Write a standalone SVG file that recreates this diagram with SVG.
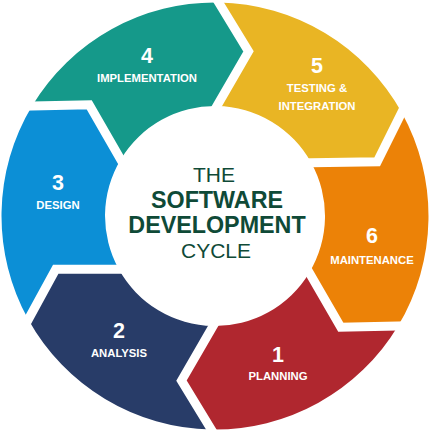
<svg xmlns="http://www.w3.org/2000/svg" width="431" height="431" viewBox="0 0 431 431">
<style>
.num{font-family:"Liberation Sans",Arial,sans-serif;font-weight:bold;font-size:21.5px;fill:#fff;text-anchor:middle}
.lbl{font-family:"Liberation Sans",Arial,sans-serif;font-weight:bold;font-size:11.3px;fill:#fff;text-anchor:middle}
.ct{font-family:"Liberation Sans",Arial,sans-serif;fill:#0f4a37;text-anchor:middle}
.thin{font-size:21px;font-weight:normal}
.bold{font-size:23.3px;font-weight:bold}
</style>
<defs>
<mask id="gaps" maskUnits="userSpaceOnUse" x="0" y="0" width="431" height="431">
<rect x="0" y="0" width="431" height="431" fill="#fff"/>
<g fill="none" stroke="#000" stroke-width="9" stroke-linejoin="miter" stroke-miterlimit="10">
<polyline points="212.8,-7.2 218.7,2.5 248.5,51.4 216.9,106 207.5,122.4"/>
<polyline points="406.6,102.6 401.7,112.5 377.2,161.7 311.2,162.7 291.4,163"/>
<polyline points="409.5,325.7 398,326 340.8,327.3 309.3,272.7 299.8,256.3"/>
<polyline points="217.2,439.2 211.3,429.5 181.5,380.6 213.1,326 222.6,309.6"/>
<polyline points="22.8,329.6 28.3,319.5 55.7,269.3 118.8,269.3 137.7,269.3"/>
<polyline points="20.6,106.3 32,106 89.2,104.7 120.7,159.4 130.2,175.8"/>
</g>
</mask>
</defs>
<rect x="0" y="0" width="431" height="431" fill="#fff"/>
<g mask="url(#gaps)">
<g id="node-implementation">
<path fill="#15998a" d="M32,106 A213.5,213.5 0 0 1 218.7,2.5 L248.5,51.4 L216.9,106 A110,110 0 0 0 120.7,159.4 L89.2,104.7 Z"/>
</g>
<g id="node-testing">
<path fill="#e9b524" d="M218.7,2.5 A213.5,213.5 0 0 1 401.7,112.5 L377.2,161.7 L311.2,162.7 A110,110 0 0 0 216.9,106 L248.5,51.4 Z"/>
</g>
<g id="node-maintenance">
<path fill="#ec8207" d="M401.7,112.5 A213.5,213.5 0 0 1 398,326 L340.8,327.3 L309.3,272.7 A110,110 0 0 0 311.2,162.7 L377.2,161.7 Z"/>
</g>
<g id="node-planning">
<path fill="#b0272f" d="M398,326 A213.5,213.5 0 0 1 211.3,429.5 L181.5,380.6 L213.1,326 A110,110 0 0 0 309.3,272.7 L340.8,327.3 Z"/>
</g>
<g id="node-analysis">
<path fill="#283c68" d="M211.3,429.5 A213.5,213.5 0 0 1 28.3,319.5 L55.7,269.3 L118.8,269.3 A110,110 0 0 0 213.1,326 L181.5,380.6 Z"/>
</g>
<g id="node-design">
<path fill="#0c8fd6" d="M28.3,319.5 A213.5,213.5 0 0 1 32,106 L89.2,104.7 L120.7,159.4 A110,110 0 0 0 118.8,269.3 L55.7,269.3 Z"/>
</g>
</g>
<g id="labels-implementation"><text class="num" x="147" y="63">4</text><text class="lbl" x="147" y="82">IMPLEMENTATION</text></g>
<g id="labels-testing"><text class="num" x="317" y="73">5</text><text class="lbl" x="317" y="92">TESTING &amp;</text><text class="lbl" x="317" y="110">INTEGRATION</text></g>
<g id="labels-maintenance"><text class="num" x="372" y="243">6</text><text class="lbl" x="372" y="264">MAINTENANCE</text></g>
<g id="labels-planning"><text class="num" x="278" y="362">1</text><text class="lbl" x="278" y="380">PLANNING</text></g>
<g id="labels-analysis"><text class="num" x="119" y="338">2</text><text class="lbl" x="119" y="357">ANALYSIS</text></g>
<g id="labels-design"><text class="num" x="58" y="190">3</text><text class="lbl" x="58" y="209">DESIGN</text></g>
<g id="center-title">
<text class="ct thin" x="214" y="182">THE</text>
<text class="ct bold" x="217" y="208">SOFTWARE</text>
<text class="ct bold" x="217" y="233">DEVELOPMENT</text>
<text class="ct thin" x="216" y="258">CYCLE</text>
</g>
</svg>
